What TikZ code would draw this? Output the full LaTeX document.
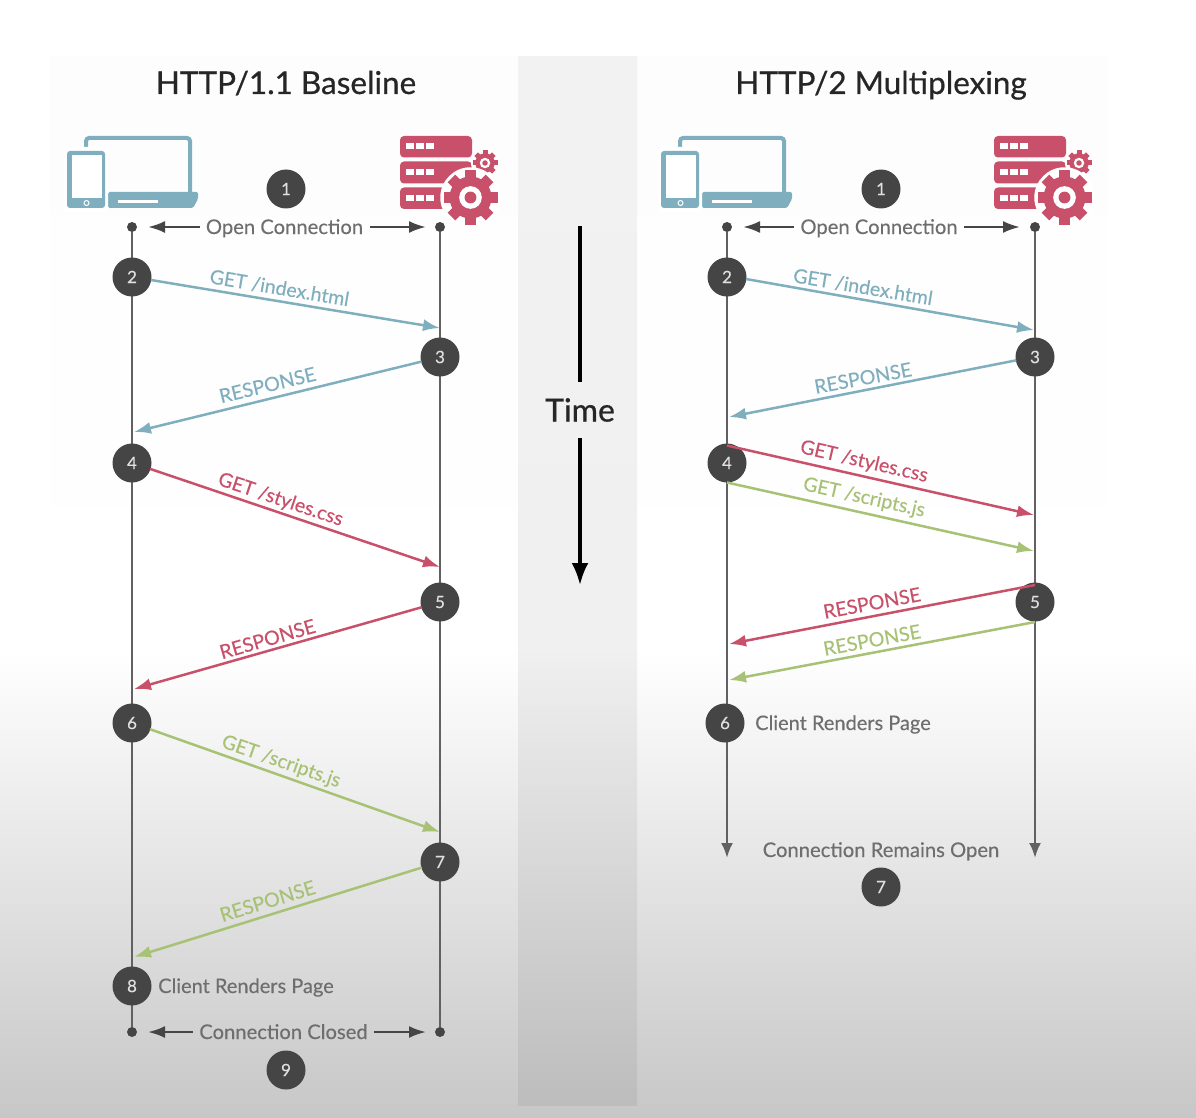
\documentclass[tikz,border=0pt]{standalone}
\usepackage{fontspec}
\setmainfont[FakeBold=0.25]{Lato}
\newfontfamily\headfont[FakeBold=0.6]{Lato}
\usetikzlibrary{arrows.meta,calc}
\definecolor{teal1}{HTML}{7FAFBE}
\definecolor{red1}{HTML}{C9506A}
\definecolor{green1}{HTML}{A8C275}
\definecolor{dark1}{HTML}{454545}
\definecolor{txt1}{HTML}{6E6E6E}
\tikzset{
  x=1pt,y=-1pt,
  num/.style={circle,fill=dark1,minimum size=39pt,inner sep=0pt,text=white!88!black,font=\fontsize{17}{17}\selectfont},
  dotn/.style={circle,fill=dark1,minimum size=10pt,inner sep=0pt},
  life/.style={draw=dark1!85!white,line width=2.5pt},
  lifearrow/.style={life,-{Latex[length=15pt,width=12pt]}},
  msg/.style={line width=2.5pt,-{Latex[length=17pt,width=12pt]}},
  side/.style={draw=dark1,line width=2.5pt,-{Latex[length=17pt,width=12pt]}},
  lab/.style={font=\fontsize{19.6}{20}\selectfont,inner sep=0pt},
  plain/.style={font=\fontsize{20.2}{20}\selectfont,text=txt1,inner sep=0pt,anchor=base},
  clientlab/.style={font=\fontsize{20}{20}\selectfont,text=txt1,inner sep=0pt,anchor=base west},
  title/.style={font=\headfont\fontsize{31.5}{32}\selectfont,text=black!85,inner sep=0pt,anchor=base},
}
\newcommand{\gearshape}[3]{% x y r
  \fill[white] (#1,#2) circle[radius=#3*1.12];
  \foreach \a in {0,45,...,315}{
    \fill[red1,rotate around={\a:(#1,#2)}] (#1-#3*0.2,#2-#3) rectangle (#1+#3*0.2,#2-#3*0.6);
  }
  \fill[red1] (#1,#2) circle[radius=#3*0.78];
  \fill[white] (#1,#2) circle[radius=#3*0.42];
  \fill[red1] (#1,#2) circle[radius=#3*0.22];
}
\newcommand{\clienticon}[1]{\begin{scope}[shift={(#1,0)}]
  \draw[teal1,line width=4pt,rounded corners=3pt] (86,194) -- (86,138) -- (190,138) -- (190,194);
  \fill[teal1,rounded corners=1.5pt] (108,192) -- (198,192) -- (198,199) -- (193,208) -- (108,208) -- cycle;
  \fill[white] (118,200) rectangle (158,203);
  \fill[white,rounded corners=4pt] (64,147) rectangle (108,212);
  \fill[teal1,rounded corners=3pt] (67,151) rectangle (105,208);
  \fill[white] (72,155.5) rectangle (102,198);
  \draw[white,line width=1pt] (86.5,203) circle[radius=2.5];
\end{scope}}
\newcommand{\servericon}[1]{\begin{scope}[shift={(#1,0)}]
  \fill[red1,rounded corners=4pt] (400,136) rectangle (472,157.5);
  \fill[red1,rounded corners=4pt] (400,161.5) rectangle (472,183.5);
  \fill[red1,rounded corners=4pt] (400,187.5) rectangle (472,209);
  \foreach \yy in {143,169,195}{
    \foreach \xx in {406,416,426}{ \fill[white] (\xx,\yy) rectangle +(7.5,6.5); }
  }
  \gearshape{485}{163}{12.5}
  \gearshape{470.5}{197.5}{27}
\end{scope}}
\begin{document}
\begin{tikzpicture}
\useasboundingbox (0,0) rectangle (1196,1118);
% background
\fill[white] (0,0) rectangle (1196,660);
\shade[top color=white,bottom color=white!78!black] (0,650) rectangle (1196,1118);
\shade[top color=white!99.2!black,bottom color=white] (50,57) rectangle (518,650);
\shade[top color=white!99.2!black,bottom color=white] (637,57) rectangle (1108,650);
\shade[top color=white!95!black,bottom color=white!94!black] (518,57) rectangle (637,650);
\shade[top color=white!94!black,bottom color=white!74!black] (518,650) rectangle (637,1105);
% titles
\node[title] (t1) at (286,94) {HTTP/1.1 Baseline};
\node[title] (t2) at (881,94) {HTTP/2 Multiplexing};
% icons
\clienticon{0}\clienticon{594}
\servericon{0}\servericon{594}
% time
\node[font=\headfont\fontsize{32}{32}\selectfont,text=black!85,inner sep=0pt] (time) at (580,410) {Time};
\coordinate (timetop) at (580,226);
\coordinate (timebot) at (580,585);
\draw[black,line width=3.5pt] (timetop) -- (580,382);
\draw[black,line width=3.5pt,-{Latex[length=22pt,width=17pt]}] (580,438) -- (timebot);

% ===== LEFT =====
\node[dotn] (lt) at (132,227) {};
\node[dotn] (rt) at (440,227) {};
\node[dotn] (lb) at (132,1032) {};
\node[dotn] (rb) at (440,1032) {};
\draw[life] (lt) -- (lb);
\draw[life] (rt) -- (rb);
\node[plain] (oc) at (284.5,234) {Open Connection};
\draw[side] (200,227) -- (148,227);
\draw[side] (370,227) -- (426,227);
\node[plain] (cc) at (283.5,1039) {Connection Closed};
\draw[side] (193,1032) -- (148,1032);
\draw[side] (374,1032) -- (426,1032);
\node[num] (a1) at (286,189) {1};
\node[num] (a2) at (132,277) {2};
\node[num] (a3) at (440,357) {3};
\node[num] (a4) at (132,463) {4};
\node[num] (a5) at (440,602) {5};
\node[num] (a6) at (132,723) {6};
\node[num] (a7) at (440,862) {7};
\node[num] (a8) at (132,986) {8};
\node[num] (a9) at (286,1070) {9};
\coordinate (ae2) at (440,328);
\coordinate (ae3) at (134,432);
\coordinate (ae4) at (440,567);
\coordinate (ae5) at (134,689);
\coordinate (ae6) at (440,832);
\coordinate (ae7) at (134,957);
\draw[msg,teal1] (a2) ++(9:19) -- (ae2);
\draw[msg,teal1] (a3) ++(166:19) -- (ae3);
\draw[msg,red1] (a4) ++(18:19) -- (ae4);
\draw[msg,red1] (a5) ++(164:19) -- (ae5);
\draw[msg,green1] (a6) ++(19:19) -- (ae6);
\draw[msg,green1] (a7) ++(163:19) -- (ae7);
\node[lab,text=teal1,rotate=-9.5] (l2) at (279.5,288) {GET /index.html};
\node[lab,text=teal1,rotate=13.5] (l3) at (267.5,385) {RESPONSE};
\node[lab,text=red1,rotate=-18.5] (l4) at (280.5,500) {GET /styles.css};
\node[lab,text=red1,rotate=16] (l5) at (267.5,639) {RESPONSE};
\node[lab,text=green1,rotate=-19] (l6) at (281,762) {GET /scripts.js};
\node[lab,text=green1,rotate=17] (l7) at (267.5,901) {RESPONSE};
\node[clientlab] (cr) at (158,993) {Client Renders Page};

% ===== RIGHT =====
\node[dotn] (Lt) at (727,227) {};
\node[dotn] (Rt) at (1035,227) {};
\coordinate (Lb) at (727,858);
\coordinate (Rb) at (1035,858);
\draw[lifearrow] (Lt) -- (Lb);
\draw[lifearrow] (Rt) -- (Rb);
\node[plain] (Oc) at (879,234) {Open Connection};
\draw[side] (794,227) -- (743,227);
\draw[side] (964,227) -- (1020,227);
\node[num] (b1) at (881,189) {1};
\node[num] (b2) at (727,277) {2};
\node[num] (b3) at (1035,357) {3};
\node[num] (b4) at (727,463) {4};
\node[num] (b5) at (1035,602) {5};
\node[num] (b6) at (725,723) {6};
\node[num] (b7) at (881,887) {7};
\coordinate (be2) at (1034,330);
\coordinate (be3) at (729,417);
\coordinate (be4) at (1034,515);
\coordinate (be5) at (1034,551);
\coordinate (be6) at (729,644);
\coordinate (be7) at (729,680);
\draw[msg,teal1] (b2) ++(6:19) -- (be2);
\draw[msg,teal1] (b3) ++(170:19) -- (be3);
\draw[msg,red1] (b4) ++(90:-17.5) -- (be4);
\draw[msg,green1] (b4) ++(90:19.5) -- (be5);
\draw[msg,red1] (b5) ++(90:-17) -- (be6);
\draw[msg,green1] (b5) ++(90:20) -- (be7);
\node[lab,text=teal1,rotate=-9.5] (m2) at (863,287) {GET /index.html};
\node[lab,text=teal1,rotate=10.5] (m3) at (863,378) {RESPONSE};
\node[lab,text=red1,rotate=-13] (m4) at (864,462) {GET /styles.css};
\node[lab,text=green1,rotate=-12.5] (m5) at (864,498) {GET /scripts.js};
\node[lab,text=red1,rotate=10.5] (m6) at (872,603) {RESPONSE};
\node[lab,text=green1,rotate=10.5] (m7) at (872,640) {RESPONSE};
\node[clientlab] (Cr) at (755,730) {Client Renders Page};
\node[plain] (Co) at (881,857) {Connection Remains Open};
\end{tikzpicture}
\end{document}
